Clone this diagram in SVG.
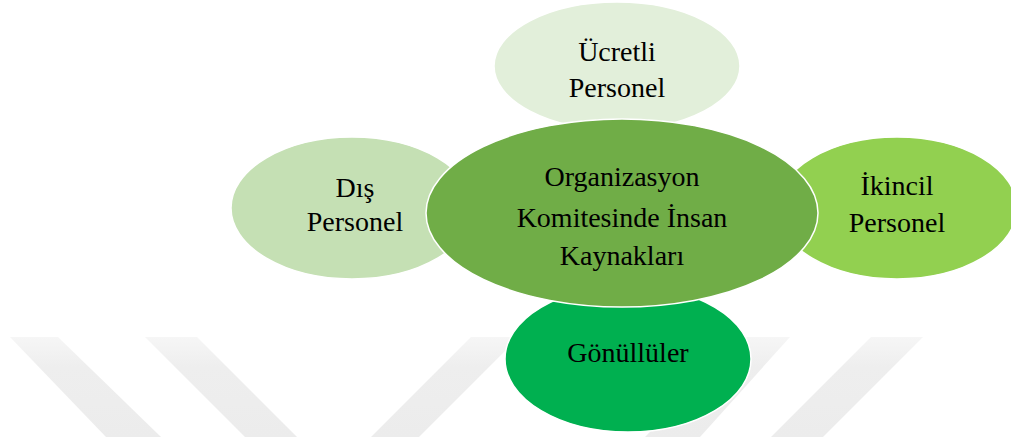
<svg xmlns="http://www.w3.org/2000/svg" width="1011" height="437" viewBox="0 0 1011 437">
  <defs>
    <linearGradient id="wmg" x1="0" y1="337" x2="0" y2="437" gradientUnits="userSpaceOnUse">
      <stop offset="0" stop-color="#f6f6f6"/>
      <stop offset="0.3" stop-color="#eeeeee"/>
      <stop offset="1" stop-color="#ececec"/>
    </linearGradient>
  </defs>
  <style>
    .node { stroke: #ffffff; stroke-width: 1.5; }
    .wm { fill: url(#wmg); }
  </style>
  <g id="watermark">
    <polygon class="wm" points="10,337 58,337 161,437 106,437"/>
    <polygon class="wm" points="145,337 197,337 297,437 245,437"/>
    <polygon class="wm" points="471,337 519,337 419,437 371,437"/>
    <polygon class="wm" points="742,337 790,337 700,437 645,437"/>
    <polygon class="wm" points="871,337 923,337 823,437 771,437"/>
  </g>
  <g id="connectors"></g>
  <g id="node-ucretli">
    <ellipse class="node" cx="617" cy="66" rx="123" ry="64" fill="#e2efda"/>
    <text x="617" y="61" font-family="Liberation Serif" font-size="28" text-anchor="middle">Ücretli</text>
    <text x="617" y="97" font-family="Liberation Serif" font-size="28" text-anchor="middle">Personel</text>
  </g>
  <g id="node-dis">
    <ellipse class="node" cx="352" cy="208" rx="121" ry="71" fill="#c5e0b4"/>
    <text x="355" y="197" font-family="Liberation Serif" font-size="28" text-anchor="middle">Dış</text>
    <text x="355" y="231" font-family="Liberation Serif" font-size="28" text-anchor="middle">Personel</text>
  </g>
  <g id="node-ikincil">
    <ellipse class="node" cx="897" cy="208" rx="120" ry="71" fill="#92d050"/>
    <text x="897" y="195" font-family="Liberation Serif" font-size="28" text-anchor="middle">İkincil</text>
    <text x="897" y="232" font-family="Liberation Serif" font-size="28" text-anchor="middle">Personel</text>
  </g>
  <g id="node-gonulluler">
    <ellipse class="node" cx="628" cy="359" rx="123" ry="73" fill="#00b050"/>
    <text x="628" y="362" font-family="Liberation Serif" font-size="28" text-anchor="middle">Gönüllüler</text>
  </g>
  <g id="node-center">
    <ellipse class="node" cx="622" cy="213" rx="196" ry="94" fill="#70ad47"/>
    <text x="622" y="186" font-family="Liberation Serif" font-size="28" text-anchor="middle">Organizasyon</text>
    <text x="622" y="227" font-family="Liberation Serif" font-size="28" text-anchor="middle">Komitesinde İnsan</text>
    <text x="622" y="265" font-family="Liberation Serif" font-size="28" text-anchor="middle">Kaynakları</text>
  </g>
</svg>
